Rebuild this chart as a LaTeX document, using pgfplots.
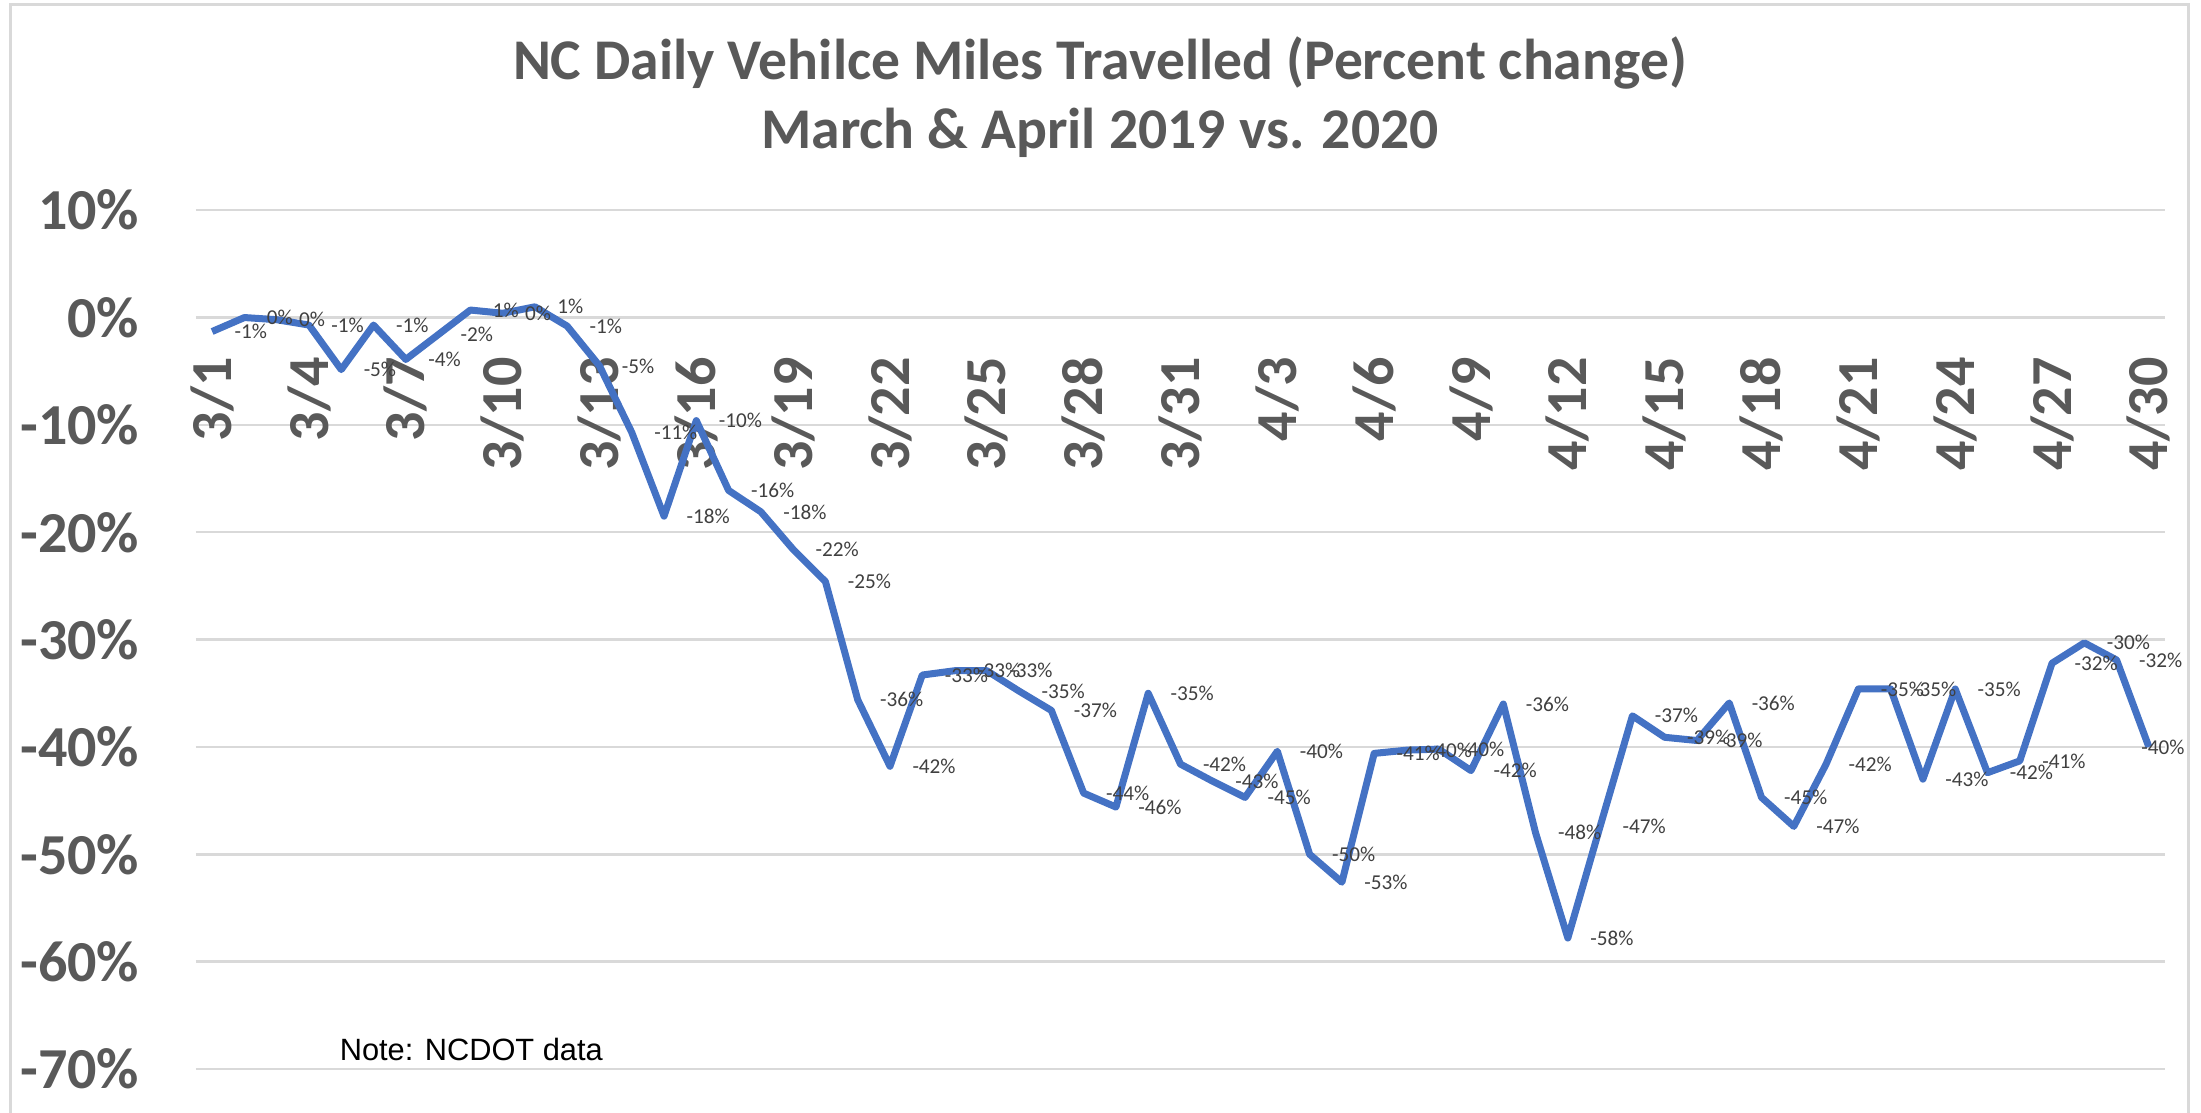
\documentclass[border=0pt]{standalone}
\usepackage{pgfplots}
\pgfplotsset{compat=1.18}
\usepackage{pgfplotstable}
\usepackage{fontspec}
\setmainfont{Carlito}
\newfontfamily\arialf{Liberation Sans}
\definecolor{linec}{HTML}{4472C4}
\definecolor{gridc}{HTML}{D9D9D9}
\definecolor{txtc}{HTML}{595959}
\definecolor{labc}{HTML}{404040}

\pgfplotstableread{
x y lab dx
0 -1.3 -1 4.75
1 0.0 0 4.75
2 -0.2 0 4.75
3 -0.7 -1 4.75
4 -4.85 -5 4.75
5 -0.7 -1 4.75
6 -3.9 -4 4.75
7 -1.6 -2 4.75
8 0.7 1 4.75
9 0.4 0 4.75
10 1.0 1 4.75
11 -0.8 -1 4.75
12 -4.5 -5 4.75
13 -10.7 -11 4.75
14 -18.5 -18 4.75
15 -9.6 -10 4.75
16 -16.1 -16 4.75
17 -18.1 -18 4.75
18 -21.6 -22 4.75
19 -24.6 -25 4.75
20 -35.6 -36 4.75
21 -41.8 -42 4.75
22 -33.3 -33 4.75
23 -32.9 -33 4.75
24 -32.9 -33 4.75
25 -34.8 -35 4.75
26 -36.6 -37 4.75
27 -44.3 -44 4.75
28 -45.6 -46 4.75
29 -35.0 -35 4.75
30 -41.6 -42 4.75
31 -43.2 -43 4.75
32 -44.7 -45 4.75
33 -40.4 -40 4.75
34 -50.0 -50 4.75
35 -52.6 -53 4.75
36 -40.6 -41 4.75
37 -40.3 -40 4.75
38 -40.2 -40 4.75
39 -42.2 -42 4.75
40 -36.0 -36 4.75
41 -48.0 -48 4.75
42 -57.8 -58 4.75
43 -47.4 -47 4.75
44 -37.1 -37 4.75
45 -39.1 -39 4.75
46 -39.4 -39 4.75
47 -35.9 -36 4.75
48 -44.7 -45 4.75
49 -47.4 -47 4.75
50 -41.6 -42 4.75
51 -34.6 -35 4.75
52 -34.6 -35 4.75
53 -43.0 -43 4.75
54 -34.6 -35 4.75
55 -42.4 -42 4.75
56 -41.3 -41 4.75
57 -32.2 -32 4.75
58 -30.3 -30 4.75
59 -31.9 -32 4.75
60 -40.0 -40 -2.75
}\datatable

\begin{document}
\begin{tikzpicture}
\begin{axis}[
  scale only axis,
  width=492.25pt, height=214.7pt,
  xmin=-0.5, xmax=60.5,
  ymin=-70, ymax=10,
  axis x line*=middle,
  axis y line*=left,
  axis line style={draw=none},
  hide obscured x ticks=false,
  hide obscured y ticks=false,
  major tick length=0pt,
  ymajorgrids,
  grid style={gridc, line width=0.6pt},
  ytick={-70,-60,-50,-40,-30,-20,-10,0,10},
  yticklabels={-70\%,-60\%,-50\%,-40\%,-30\%,-20\%,-10\%,0\%,10\%},
  yticklabel style={anchor=east, inner sep=0pt, xshift=-14pt, text=txtc,
    font=\fontsize{14.5}{14.5}\selectfont\bfseries},
  xtick={0,3,...,60},
  xticklabels={3/1,3/4,3/7,3/10,3/13,3/16,3/19,3/22,3/25,3/28,3/31,4/3,4/6,4/9,4/12,4/15,4/18,4/21,4/24,4/27,4/30},
  xticklabel style={yshift=-9.8pt, rotate=90, anchor=east, inner sep=0pt, text=txtc,
    font=\fontsize{14.5}{14.5}\selectfont\bfseries},
  clip=false,
]
\addplot[color=linec, line width=1.75pt, line join=round, mark=none,
  point meta=explicit symbolic,
  visualization depends on={\thisrow{dx} \as \dx},
  nodes near coords={\pgfplotspointmeta\%},
  every node near coord/.append style={anchor=west, inner sep=0pt, xshift=\dx,
    text=labc, font=\fontsize{5.3}{5.3}\selectfont}]
  table[x=x, y=y, meta=lab] {\datatable};
\coordinate (SW) at (rel axis cs:0,0);
\end{axis}
\node[anchor=base, text=txtc, font=\fontsize{14.4}{14.4}\selectfont\bfseries]
  at ([shift={(226pt,247.25pt)}]SW) {NC Daily Vehilce Miles Travelled (Percent change)};
\node[anchor=base, text=txtc, font=\fontsize{14.4}{14.4}\selectfont\bfseries]
  at ([shift={(226pt,230.2pt)}]SW) {March \& April 2019 vs. 2020};
\node[anchor=west, inner sep=0pt, font=\arialf\fontsize{7.7}{7.7}\selectfont]
  at ([shift={(35.75pt,5pt)}]SW) {Note: NCDOT data};
\draw[gridc, line width=0.75pt]
  ([shift={(-46.25pt,-12pt)}]SW) -- ([shift={(-46.25pt,266pt)}]SW)
  -- ([shift={(498pt,266pt)}]SW) -- ([shift={(498pt,-12pt)}]SW);
\pgfresetboundingbox
\path[use as bounding box] ([shift={(-49pt,-10.75pt)}]SW) rectangle ([shift={(501.25pt,267.25pt)}]SW);
\end{tikzpicture}
\end{document}
